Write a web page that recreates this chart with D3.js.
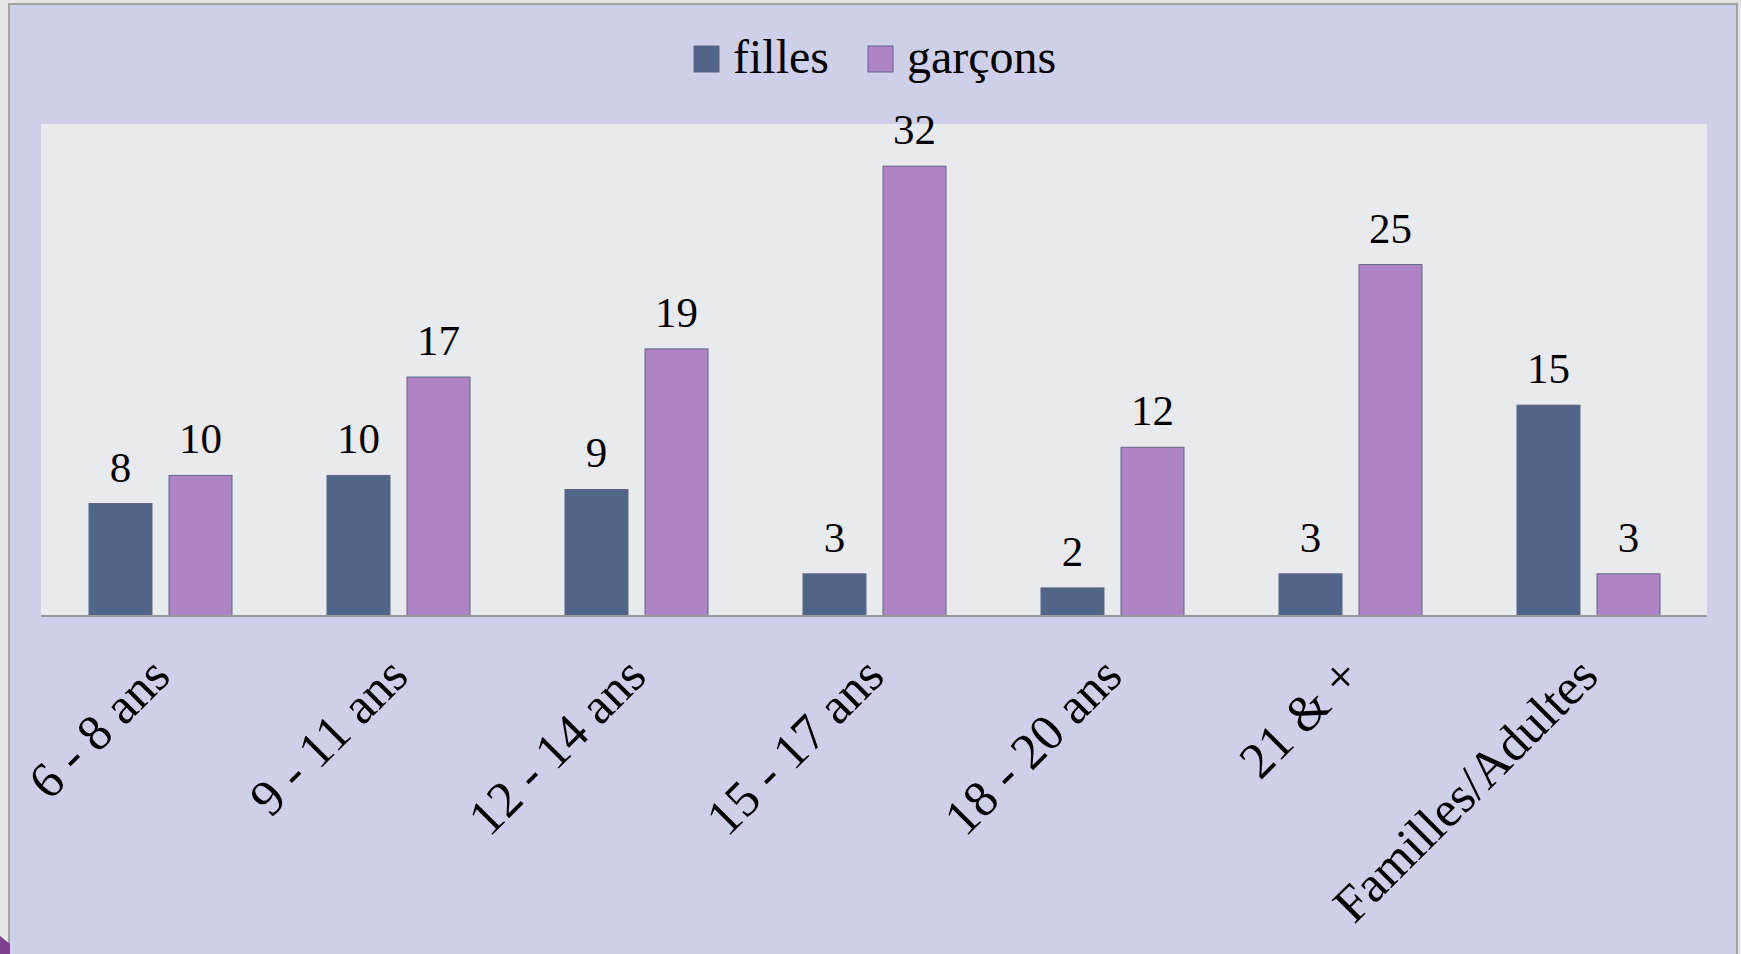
<!DOCTYPE html>
<html>
<head>
<meta charset="utf-8">
<script src="https://cdn.jsdelivr.net/npm/d3@7"></script>
<style>
  html, body { margin: 0; padding: 0; background: #e4e4e4; }
  svg { display: block; }
</style>
</head>
<body>
<svg id="chart" width="1741" height="954"></svg>
<script>
// data
var categories = ["6 - 8 ans", "9 - 11 ans", "12 - 14 ans", "15 - 17 ans", "18 - 20 ans", "21 & +", "Familles/Adultes"];
var filles = [8, 10, 9, 3, 2, 3, 15];
var garcons = [10, 17, 19, 32, 12, 25, 3];
var seriesNames = ["filles", "garçons"];
var seriesColors = ["#506587", "#ae84c5"];

var W = 1741, H = 954;
var plot = {left: 41, right: 1707, top: 124, bottom: 616};
var font = "'Liberation Serif', 'Times New Roman', serif";

var svg = d3.select("#chart");

// slide frame
svg.append("rect").attr("x", 9).attr("y", 4).attr("width", 1728).attr("height", H)
  .style("fill", "#cecfe9").style("stroke", "#a3a3a3").style("stroke-width", 2);

// little purple corner from the slide
svg.append("path").attr("d", "M0,936 L10,944 L10,954 L0,954 Z").style("fill", "#7b3f8c");

// plot area
svg.append("rect")
  .attr("x", plot.left).attr("y", plot.top)
  .attr("width", plot.right - plot.left).attr("height", plot.bottom - plot.top)
  .style("fill", "#e9eaee");

var rows = categories.map(function(c, i) { return {cat: c, vals: [filles[i], garcons[i]]}; });

var x0 = d3.scaleBand().domain(categories).range([plot.left, plot.right]).paddingInner(0).paddingOuter(0);
var x1 = d3.scaleBand().domain(seriesNames).range([48, 48 + 63 * 2 + 17]).paddingInner(17 / 80);
var y = d3.scaleLinear().domain([0, 35]).range([plot.bottom, plot.top]);

var groups = svg.append("g").selectAll("g").data(rows).enter().append("g")
  .attr("transform", function(d) { return "translate(" + x0(d.cat) + ",0)"; });

groups.selectAll("rect").data(function(d) {
    return d.vals.map(function(v, j) { return {name: seriesNames[j], v: v, j: j}; });
  }).enter().append("rect")
  .attr("x", function(d) { return x1(d.name); })
  .attr("width", x1.bandwidth())
  .attr("y", function(d) { return y(d.v); })
  .attr("height", function(d) { return y(0) - y(d.v); })
  .style("fill", function(d) { return seriesColors[d.j]; })
  .style("stroke", "#5f6784")
  .style("stroke-width", 1);

groups.selectAll("text.val").data(function(d) {
    return d.vals.map(function(v, j) { return {name: seriesNames[j], v: v}; });
  }).enter().append("text")
  .attr("class", "val")
  .attr("x", function(d) { return x1(d.name) + x1.bandwidth() / 2; })
  .attr("y", function(d) { return y(d.v) - 22; })
  .attr("text-anchor", "middle")
  .style("font-family", font).style("font-size", "43px").style("fill", "#000")
  .text(function(d) { return d.v; });

// x axis
var xAxis = d3.axisBottom(x0).tickSize(0).tickPadding(0);
var gx = svg.append("g").attr("transform", "translate(0," + plot.bottom + ")").call(xAxis);
gx.select(".domain").attr("d", "M" + plot.left + ",0H" + plot.right).style("stroke", "#9a9a9a").style("stroke-width", 2);
gx.selectAll(".tick text")
  .style("font-family", font).style("font-size", "51px").style("fill", "#000")
  .attr("text-anchor", "end")
  .attr("x", 0).attr("y", 0).attr("dy", "0.35em")
  .attr("transform", "translate(0,50) rotate(-45)");

// legend
var legend = svg.append("g").selectAll("g").data(seriesNames).enter().append("g")
  .attr("transform", function(d, i) { return "translate(" + [694, 868][i] + ",0)"; });
legend.append("rect").attr("x", 0).attr("y", 46).attr("width", 25).attr("height", 26)
  .style("fill", function(d, i) { return seriesColors[i]; })
  .style("stroke", "#5f6784").style("stroke-width", 1);
legend.append("text").attr("x", 39).attr("y", 73)
  .style("font-family", font).style("font-size", "48px").style("fill", "#000")
  .text(function(d) { return d; });
</script>
</body>
</html>
